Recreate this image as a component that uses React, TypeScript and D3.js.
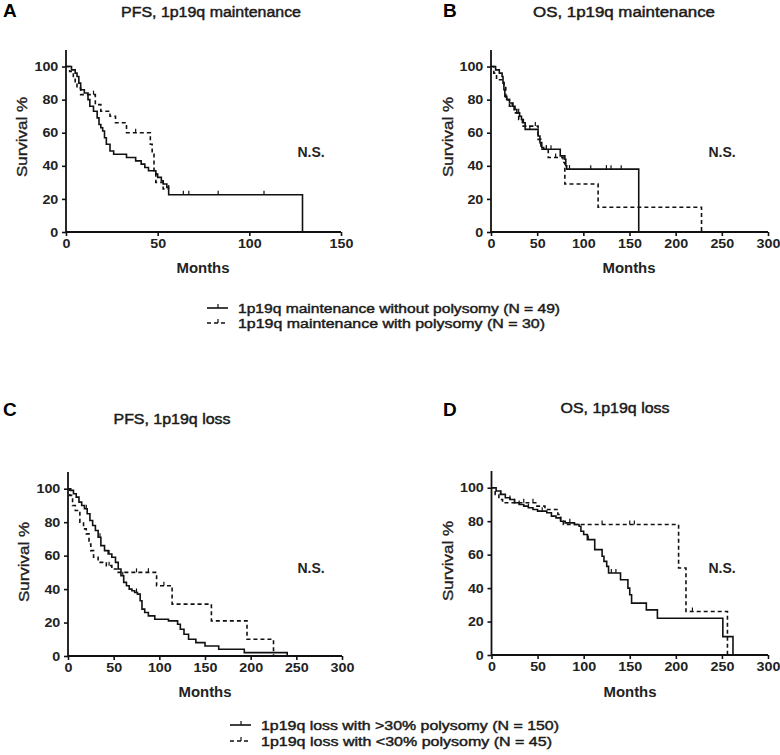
import { useEffect, useRef } from 'react';
import * as d3 from 'd3';

// A: PFS, 1p19q maintenance
const aSolidTimes = [0, 3, 5, 6, 7, 8, 10, 12, 13, 15, 17, 18, 19, 20, 21, 22, 24, 26, 33, 38, 41, 43, 45, 49, 50, 52, 53, 55, 56, 129];
const aSolidSurv = [100, 98, 96, 94, 90, 86, 84, 80, 76, 73, 69, 65, 63, 61, 57, 53, 49, 47, 45, 43, 41, 39, 37, 35, 33, 31, 29, 27, 22.5, 0];
const aSolidCensor = [64, 67, 83, 108];
const aDashTimes = [0, 2, 4, 5, 6, 8, 16, 19, 24, 27, 33, 46, 47, 48, 49, 53];
const aDashSurv = [100, 97, 93, 90, 87, 83, 77, 73, 70, 66, 60, 53, 47, 36, 30, 26];
const aDashCensor = [15, 38, 56];

// B: OS, 1p19q maintenance
const bSolidTimes = [0, 5, 9, 12, 13, 14, 15, 17, 20, 23, 26, 28, 31, 33, 35, 37, 51, 53, 55, 57, 75, 80, 81, 82, 160];
const bSolidSurv = [100, 98, 96, 94, 90, 86, 82, 80, 78, 76, 74, 72, 70, 68, 66, 62, 58, 54, 51, 50, 46, 44, 40, 38, 0];
const bSolidCensor = [24, 30, 42, 60, 65, 85, 108, 125, 130, 141];
const bDashTimes = [0, 3, 6, 14, 16, 20, 25, 30, 34, 51, 54, 62, 78, 80, 116, 228];
const bDashSurv = [100, 96, 92, 88, 80, 76, 72, 68, 64, 56, 50, 45, 42, 29, 15, 0];
const bDashCensor = [17, 48, 60, 70];

// C: PFS, 1p19q loss
const cSolidTimes = [0, 3, 6, 9, 12, 15, 18, 21, 24, 27, 30, 33, 36, 40, 44, 48, 52, 55, 58, 61, 64, 67, 70, 73, 76, 79, 81, 84, 88, 95, 110, 120, 123, 127, 132, 140, 150, 165, 193, 240];
const cSolidSurv = [100, 99, 97, 95, 92, 90, 88, 85, 81, 78, 75, 71, 66, 63, 61, 59, 56, 52, 48, 44, 42, 40, 39, 38, 37, 33, 28, 26, 24, 22, 21, 19, 16, 13, 10, 8, 6, 4, 2, 0];
const cSolidCensor = [20, 35, 45, 60, 75];
const cDashTimes = [0, 2, 5, 8, 13, 17, 20, 23, 25, 28, 33, 42, 48, 55, 97, 114, 157, 196, 225];
const cDashSurv = [100, 96, 90, 87, 80, 76, 73, 67, 63, 59, 56, 54, 52, 50, 42, 31, 21, 10, 0];
const cDashCensor = [45, 75, 88, 105];

// D: OS, 1p19q loss
const dSolidTimes = [0, 5, 10, 15, 20, 25, 30, 35, 40, 45, 50, 60, 65, 70, 75, 80, 90, 95, 97, 100, 104, 112, 120, 122, 125, 127, 140, 148, 150, 152, 168, 180, 251, 262];
const dSolidSurv = [100, 98, 96, 94, 93, 91, 90, 89, 88, 87, 86, 85, 83, 82, 80, 79, 78, 77, 74, 72, 69, 63, 59, 56, 53, 49, 45, 40, 36, 31, 27, 22, 11, 0];
const dSolidCensor = [10, 20, 30, 40, 55, 85, 105, 130, 135];
const dDashTimes = [0, 4, 8, 12, 48, 58, 72, 75, 78, 203, 211, 256];
const dDashSurv = [100, 96, 93, 91, 89, 87, 84, 80, 78, 52, 26, 0];
const dDashCensor = [25, 35, 45, 120, 150, 155, 218];

const panelLetters = ['A', 'B', 'C', 'D'];
const panelTitles = ['PFS, 1p19q maintenance', 'OS, 1p19q maintenance', 'PFS, 1p19q loss', 'OS, 1p19q loss'];
const xMaxes = [150, 300, 300, 300];
const yTicks = [0, 20, 40, 60, 80, 100];
const legendTop = ['1p19q maintenance without polysomy (N = 49)', '1p19q maintenance with polysomy (N = 30)'];
const legendBottom = ['1p19q loss with >30% polysomy (N = 150)', '1p19q loss with <30% polysomy (N = 45)'];

const FONT = '"Liberation Sans", Arial, Helvetica, sans-serif';

interface Series {
  times: number[];
  surv: number[];
  censor: number[];
  dashed: boolean;
}

const panelSeries: Series[][] = [
  [
    { times: aSolidTimes, surv: aSolidSurv, censor: aSolidCensor, dashed: false },
    { times: aDashTimes, surv: aDashSurv, censor: aDashCensor, dashed: true },
  ],
  [
    { times: bSolidTimes, surv: bSolidSurv, censor: bSolidCensor, dashed: false },
    { times: bDashTimes, surv: bDashSurv, censor: bDashCensor, dashed: true },
  ],
  [
    { times: cSolidTimes, surv: cSolidSurv, censor: cSolidCensor, dashed: false },
    { times: cDashTimes, surv: cDashSurv, censor: cDashCensor, dashed: true },
  ],
  [
    { times: dSolidTimes, surv: dSolidSurv, censor: dSolidCensor, dashed: false },
    { times: dDashTimes, surv: dDashSurv, censor: dDashCensor, dashed: true },
  ],
];

// layout of each panel (pixel frame)
const frames = [
  { left: 66, right: 341, top: 50, bottom: 232, letterX: 3, letterY: 17, titleX: 211, titleY: 17, titleW: 180, nsX: 311, nsY: 157, ylabX: 22, ylabY: 137, monthsX: 203, monthsY: 273 },
  { left: 491, right: 768, top: 50, bottom: 232, letterX: 443, letterY: 17, titleX: 624, titleY: 17, titleW: 182, nsX: 722, nsY: 157, ylabX: 448, ylabY: 137, monthsX: 629, monthsY: 273 },
  { left: 68, right: 342, top: 472, bottom: 656, letterX: 3, letterY: 416, titleX: 172, titleY: 424, titleW: 117, nsX: 311, nsY: 573, ylabX: 24, ylabY: 562, monthsX: 205, monthsY: 697 },
  { left: 491.5, right: 768, top: 471, bottom: 655, letterX: 443, letterY: 416, titleX: 615, titleY: 413, titleW: 109, nsX: 722, nsY: 573, ylabX: 448, ylabY: 561, monthsX: 630, monthsY: 697 },
];

function survAt(s: Series, t: number) {
  let v = s.surv[0];
  for (let i = 0; i < s.times.length; i++) if (s.times[i] <= t) v = s.surv[i];
  return v;
}

export default function App() {
  const svgRef = useRef<SVGSVGElement>(null);

  useEffect(() => {
    if (!svgRef.current) return;
    const svg = d3.select(svgRef.current);
    svg.selectAll('*').remove();

    frames.forEach((f, pi) => {
      const x = d3.scaleLinear().domain([0, xMaxes[pi]]).range([f.left, f.right]);
      const y = d3.scaleLinear().domain([0, 110]).range([f.bottom, f.top]);
      const g = svg.append('g');

      g.append('text')
        .attr('x', f.letterX)
        .attr('y', f.letterY)
        .attr('font-family', FONT)
        .attr('font-weight', 'bold')
        .attr('font-size', 19)
        .text(panelLetters[pi]);

      // regular text in the figure is slightly heavier than plain Arial
      g.append('text')
        .attr('x', f.titleX - f.titleW / 2)
        .attr('y', f.titleY)
        .attr('font-family', FONT)
        .attr('font-size', 14)
        .attr('fill', '#1a1a1a')
        .attr('stroke', '#1a1a1a')
        .attr('stroke-width', 0.45)
        .attr('textLength', f.titleW)
        .attr('lengthAdjust', 'spacingAndGlyphs')
        .text(panelTitles[pi]);

      // axes
      const xAxis = g
        .append('g')
        .attr('transform', `translate(0,${f.bottom})`)
        .call(d3.axisBottom(x).tickValues(d3.range(0, xMaxes[pi] + 1, 50)).tickSize(4).tickSizeOuter(0).tickPadding(3));
      const yAxis = g
        .append('g')
        .attr('transform', `translate(${f.left},0)`)
        .call(d3.axisLeft(y).tickValues(yTicks).tickSize(4).tickSizeOuter(0).tickPadding(3));
      [xAxis, yAxis].forEach((ax) => {
        ax.select('.domain').attr('stroke', '#111').attr('stroke-width', 1.8);
        ax.selectAll('.tick line').attr('stroke', '#111').attr('stroke-width', 1.6);
        ax.selectAll('.tick text')
          .attr('font-family', FONT)
          .attr('font-weight', 'bold')
          .attr('font-size', 13)
          .attr('fill', '#222')
          .attr('transform', 'scale(1.1,1)');
      });
      xAxis.select('.domain').attr('d', `M${f.left},0H${f.right}`);
      yAxis.select('.domain').attr('d', `M0,${f.bottom}V${f.top}`);

      g.append('text')
        .attr('x', f.monthsX)
        .attr('y', f.monthsY)
        .attr('text-anchor', 'middle')
        .attr('font-family', FONT)
        .attr('font-weight', 'bold')
        .attr('font-size', 14)
        .attr('fill', '#222')
        .attr('textLength', 53)
        .attr('lengthAdjust', 'spacingAndGlyphs')
        .text('Months');

      g.append('text')
        .attr('transform', `translate(${f.ylabX + 5},${f.ylabY}) rotate(-90)`)
        .attr('text-anchor', 'middle')
        .attr('font-family', FONT)
        .attr('font-size', 14)
        .attr('fill', '#222')
        .attr('stroke', '#222')
        .attr('stroke-width', 0.35)
        .attr('textLength', 80)
        .attr('lengthAdjust', 'spacingAndGlyphs')
        .text('Survival %');

      g.append('text')
        .attr('x', f.nsX)
        .attr('y', f.nsY)
        .attr('text-anchor', 'middle')
        .attr('font-family', FONT)
        .attr('font-weight', 'bold')
        .attr('font-size', 14)
        .attr('fill', '#222')
        .text('N.S.');

      const line = d3
        .line<[number, number]>()
        .x((d) => x(d[0]))
        .y((d) => y(d[1]))
        .curve(d3.curveStepAfter);

      panelSeries[pi].forEach((s) => {
        const pts: [number, number][] = s.times.map((t, i) => [t, s.surv[i]]);
        const last = pts[pts.length - 1];
        const maxC = d3.max(s.censor) ?? last[0];
        if (last[1] > 0 && maxC > last[0]) pts.push([maxC, last[1]]);
        g.append('path')
          .datum(pts)
          .attr('fill', 'none')
          .attr('stroke', '#111')
          .attr('stroke-width', 1.6)
          .attr('stroke-dasharray', s.dashed ? '4,3' : null)
          .attr('d', line);
        g.selectAll(null)
          .data(s.censor)
          .enter()
          .append('line')
          .attr('x1', (t) => x(t))
          .attr('x2', (t) => x(t))
          .attr('y1', (t) => y(survAt(s, t)))
          .attr('y2', (t) => y(survAt(s, t)) - 4)
          .attr('stroke', '#111')
          .attr('stroke-width', 1.2);
      });
    });

    // legends
    const legends = [
      { labels: legendTop, x0: 207, tx: 238, ys: [308, 323], widths: [322, 307] },
      { labels: legendBottom, x0: 230, tx: 261, ys: [725, 741], widths: [298, 291] },
    ];
    legends.forEach((lg) => {
      lg.labels.forEach((lab, i) => {
        const yy = lg.ys[i];
        svg.append('line')
          .attr('x1', lg.x0)
          .attr('x2', lg.x0 + 21)
          .attr('y1', yy)
          .attr('y2', yy)
          .attr('stroke', '#111')
          .attr('stroke-width', 1.6)
          .attr('stroke-dasharray', i === 1 ? '4,3' : null);
        svg.append('line')
          .attr('x1', lg.x0 + 11)
          .attr('x2', lg.x0 + 11)
          .attr('y1', yy)
          .attr('y2', yy - 4)
          .attr('stroke', '#111')
          .attr('stroke-width', 1.2);
        svg.append('text')
          .attr('x', lg.tx)
          .attr('y', yy + 5)
          .attr('font-family', FONT)
          .attr('font-size', 13.5)
          .attr('fill', '#1a1a1a')
          .attr('stroke', '#1a1a1a')
          .attr('stroke-width', 0.45)
          .attr('textLength', lg.widths[i])
          .attr('lengthAdjust', 'spacingAndGlyphs')
          .text(lab);
      });
    });
  }, []);

  return (
    <svg
      ref={svgRef}
      width={780}
      height={755}
      style={{ position: 'absolute', left: 0, top: 0, background: '#fff' }}
    />
  );
}
